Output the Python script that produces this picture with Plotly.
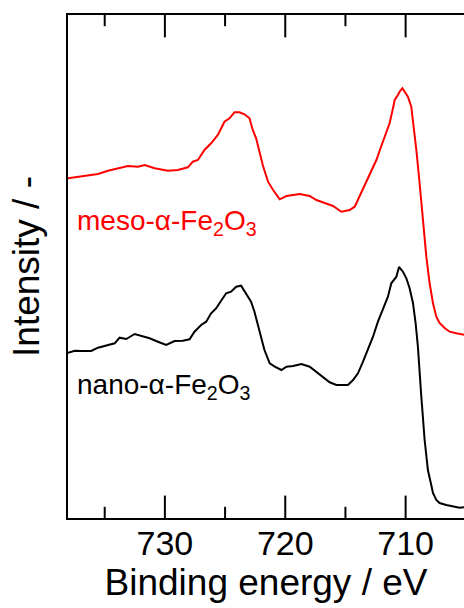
import plotly.graph_objects as go

# Fe 2p XPS spectra (binding energy in eV, intensity in arbitrary units, offset for clarity)
meso_be = [738.05, 737.22, 736.39, 735.56, 734.73, 733.90, 733.07, 732.24, 731.68, 730.85,
           729.75, 728.92, 728.09, 727.68, 727.26, 726.71, 726.16, 725.60, 725.05, 724.63,
           724.22, 723.80, 723.39, 722.97, 722.70, 722.42, 722.14, 721.87, 721.43, 721.01,
           720.46, 719.90, 718.80, 717.97, 717.41, 716.58, 716.03, 715.34, 714.65, 714.23,
           713.98, 713.68, 713.26, 712.85, 712.43, 712.02, 711.60, 711.33, 711.05, 710.91,
           710.64, 710.50, 710.27, 710.08, 709.81, 709.53, 709.39, 709.25, 709.11, 708.84,
           708.70, 708.56, 708.28, 708.01, 707.73, 707.45, 707.18, 706.76, 706.35, 705.79,
           705.24, 705.00]
meso_int = [339.7, 341.3, 343.0, 344.0, 347.3, 349.7, 352.0, 351.3, 353.0, 349.7,
            347.3, 348.0, 350.7, 356.3, 358.0, 368.0, 374.7, 383.0, 396.3, 399.7,
            405.7, 405.7, 403.7, 399.7, 388.0, 379.7, 366.3, 353.0, 336.3, 328.0,
            318.7, 322.0, 324.0, 322.0, 318.0, 314.7, 312.0, 306.3, 308.0, 311.3,
            318.0, 324.7, 336.3, 348.0, 358.0, 372.0, 386.3, 394.7, 409.7, 418.0,
            423.0, 426.3, 429.7, 426.3, 421.3, 411.3, 398.0, 381.3, 368.0, 335.0,
            315.0, 295.0, 261.3, 235.0, 215.0, 201.3, 195.0, 190.0, 186.3, 184.7,
            183.0, 183.0]

nano_be = [738.05, 737.49, 736.95, 736.12, 735.56, 734.73, 734.17, 733.76, 733.21, 732.51,
           731.97, 731.27, 730.58, 729.89, 729.20, 728.51, 727.95, 727.54, 726.99, 726.57,
           726.16, 725.74, 725.33, 724.91, 724.50, 724.08, 723.67, 723.25, 722.84, 722.56,
           722.14, 721.73, 721.29, 720.87, 720.32, 719.90, 719.35, 718.66, 717.97, 717.41,
           716.86, 716.31, 715.75, 715.20, 714.79, 714.37, 713.96, 713.54, 713.13, 712.71,
           712.30, 711.88, 711.47, 711.19, 710.77, 710.55, 710.22, 709.94, 709.67, 709.39,
           709.17, 708.98, 708.78, 708.70, 708.42, 708.15, 707.87, 707.73, 707.45, 707.18,
           706.62, 706.07, 705.52, 705.00]
nano_int = [165.3, 167.3, 167.0, 167.0, 170.3, 173.0, 174.7, 180.3, 179.0, 184.0,
            182.0, 179.7, 176.3, 173.0, 177.0, 177.3, 178.7, 186.3, 193.0, 196.3,
            204.7, 209.7, 217.3, 224.7, 226.3, 231.3, 232.3, 224.7, 216.3, 206.3,
            188.0, 168.0, 154.7, 151.3, 148.0, 151.3, 152.0, 154.0, 151.3, 146.3,
            141.3, 135.7, 133.0, 133.0, 133.0, 138.0, 144.7, 156.3, 168.0, 181.3,
            196.3, 208.0, 221.3, 234.7, 241.3, 251.0, 246.3, 239.7, 229.7, 215.0,
            195.0, 171.3, 141.3, 122.0, 78.0, 48.0, 33.0, 25.0, 18.0, 15.0,
            13.0, 12.0, 10.3, 11.0]

labels = ["meso-α-Fe<sub>2</sub>O<sub>3</sub>", "nano-α-Fe<sub>2</sub>O<sub>3</sub>"]
colors = ["#ff0000", "#000000"]
label_pos = [(737.5, 296), (737.5, 132)]

x_range = [738.05, 705.15]
major_ticks = [730, 720, 710]
minor_ticks = [735, 725, 715]

FONT = "Arial, Liberation Sans, sans-serif"

fig = go.Figure()
for be, inten, col in [(meso_be, meso_int, colors[0]), (nano_be, nano_int, colors[1])]:
    fig.add_trace(go.Scatter(x=be, y=inten, mode="lines",
                             line=dict(color=col, width=2), showlegend=False))

# inward tick marks on the bottom and top frame edges: vertical line markers centred on
# the edge of a normalised helper axis, the outer half is clipped by the plot area
for vals, size in [(major_ticks, 32), (minor_ticks, 16)]:
    for edge in (0, 1):
        fig.add_trace(go.Scatter(
            x=vals, y=[edge] * len(vals), yaxis="y2", mode="markers",
            marker=dict(symbol="line-ns-open", size=size, color="black",
                        line=dict(width=2, color="black")),
            cliponaxis=True, showlegend=False, hoverinfo="skip"))

for text, col, (lx, ly) in zip(labels, colors, label_pos):
    fig.add_annotation(x=lx, y=ly, xref="x", yref="y", text=text, showarrow=False,
                       xanchor="left", yanchor="middle",
                       font=dict(family=FONT, size=28, color=col))

fig.update_layout(
    width=464, height=608,
    margin=dict(l=68, r=0, t=15, b=90),
    paper_bgcolor="white", plot_bgcolor="white",
    font=dict(family=FONT, color="black"),
    xaxis=dict(
        range=x_range, showgrid=False, zeroline=False,
        showline=True, linecolor="black", linewidth=2, mirror=True,
        tickmode="array", tickvals=major_ticks, ticks="",
        tickfont=dict(size=34, family=FONT), ticklabelstandoff=-6,
        title=dict(text="Binding energy / eV", font=dict(size=37, family=FONT), standoff=4),
    ),
    yaxis=dict(
        range=[0, 503], showgrid=False, zeroline=False,
        showline=True, linecolor="black", linewidth=2,
        showticklabels=False, ticks="",
        title=dict(text="Intensity / -", font=dict(size=37, family=FONT), standoff=15),
    ),
    yaxis2=dict(range=[0, 1], overlaying="y", visible=False, fixedrange=True),
)

fig.write_html("out.html")
